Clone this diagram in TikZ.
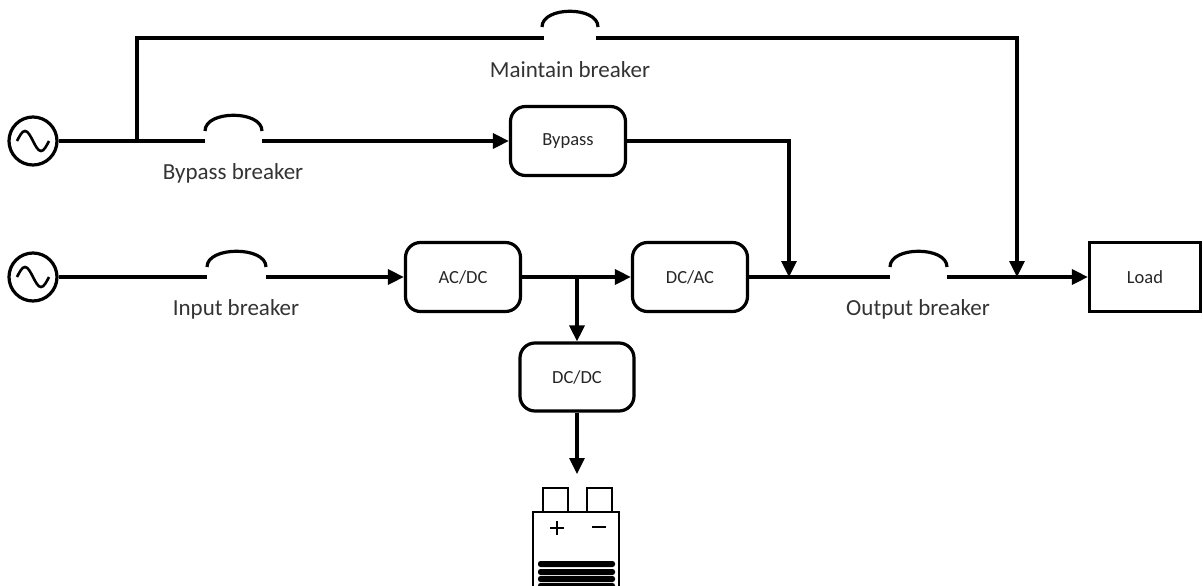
\documentclass[tikz,border=0pt]{standalone}
\usepackage{fontspec}
\setmainfont{Carlito}
\usetikzlibrary{arrows.meta}
\tikzset{
  wire/.style={line width=3.2pt, black},
  flow/.style={wire, -{Triangle[length=16pt,width=15pt]}},
  conv/.style={draw, line width=3.2pt, rounded corners=15pt, minimum width=115pt, minimum height=69pt, inner sep=0pt, font=\fontsize{18.5}{20}\selectfont, text=black!85},
  loadbox/.style={draw, line width=3.2pt, minimum width=111pt, minimum height=69pt, inner sep=0pt, font=\fontsize{18.5}{20}\selectfont, text=black!85},
  src/.style={draw, circle, line width=3.2pt, minimum size=48pt, inner sep=0pt},
  lbl/.style={font=\fontsize{23}{26}\selectfont, text=black!80, inner sep=0pt},
  brk/.style={line width=3.2pt}
}
\begin{document}
\begin{tikzpicture}[x=1pt,y=-1pt]
\useasboundingbox (0,0) rectangle (1203,586);
\begin{scope}
\clip (0,0) rectangle (1203,586);
% sources
\node[src] (s1) at (33,141) {};
\node[src] (s2) at (33,277) {};
\draw[line width=2.6pt] (17,141) sin (25,131) cos (33,141) sin (41,151) cos (49,141);
\draw[line width=2.6pt] (17,277) sin (25,267) cos (33,277) sin (41,287) cos (49,277);
% converter boxes
\node[conv] (byp) at (568,141) {Bypass};
\node[conv] (acdc) at (463,277) {AC/DC};
\node[conv] (dcac) at (690,277) {DC/AC};
\node[conv, minimum width=114pt, minimum height=68pt] (dcdc) at (577,377) {DC/DC};
\node[loadbox] (load) at (1145,277) {Load};
% coordinates
\coordinate (jb) at (137,141);
\coordinate (jt) at (137,38);
\coordinate (mL) at (542,38);
\coordinate (mR) at (598,38);
\coordinate (mc) at (1017,38);
\coordinate (me) at (1017,277);
\coordinate (bL) at (205,141);
\coordinate (bR) at (262,141);
\coordinate (bc) at (789,141);
\coordinate (be) at (789,277);
\coordinate (iL) at (207,277);
\coordinate (iR) at (266,277);
\coordinate (jd) at (577,277);
\coordinate (oL) at (890,277);
\coordinate (oR) at (947,277);
\coordinate (bat) at (577,474);
% breaker arcs
\draw[brk] (542,27) .. controls (542,6) and (598,6) .. (598,27);
\draw[brk] (205,131) .. controls (205,110) and (262,110) .. (262,131);
\draw[brk] (207,267) .. controls (207,246) and (266,246) .. (266,267);
\draw[brk] (890,267) .. controls (890,246) and (947,246) .. (947,267);
% labels
\node[lbl] (lm) at (570,70) {Maintain breaker};
\node[lbl] (lb) at (233,173) {Bypass breaker};
\node[lbl] (li) at (236,309) {Input breaker};
\node[lbl] (lo) at (918,309) {Output breaker};
% wires
\draw[wire] (s1.east) -- (bL);
\draw[wire, line cap=rect] (jb) -- (jt) -- (mL);
\draw[flow] (bR) -- (byp.west);
\draw[wire, line cap=rect] (mR) -- (mc);
\draw[flow] (mc) -- (me);
\draw[wire, line cap=rect] (byp.east) -- (bc);
\draw[flow] (bc) -- (be);
\draw[wire] (s2.east) -- (iL);
\draw[flow] (iR) -- (acdc.west);
\draw[flow] (acdc.east) -- (dcac.west);
\draw[flow] (jd) -- (dcdc.north);
\draw[wire] (dcac.east) -- (oL);
\draw[flow] (oR) -- (load.west);
\draw[flow] (dcdc.south) -- (bat);
% battery
\draw[line width=2.6pt] (543,488) rectangle (568,512);
\draw[line width=2.6pt] (587,488) rectangle (612,512);
\draw[line width=2.6pt, fill=white] (533,512) rectangle (619,600);
\draw[line width=1.5pt] (550,528) -- (564,528) (557,521) -- (557,535);
\draw[line width=1.5pt] (592,527) -- (606,527);
\foreach \y in {561,569,576,583}
  \fill[rounded corners=2.5pt] (538,\y) rectangle (615,\y+6);
\end{scope}
\end{tikzpicture}
\end{document}
